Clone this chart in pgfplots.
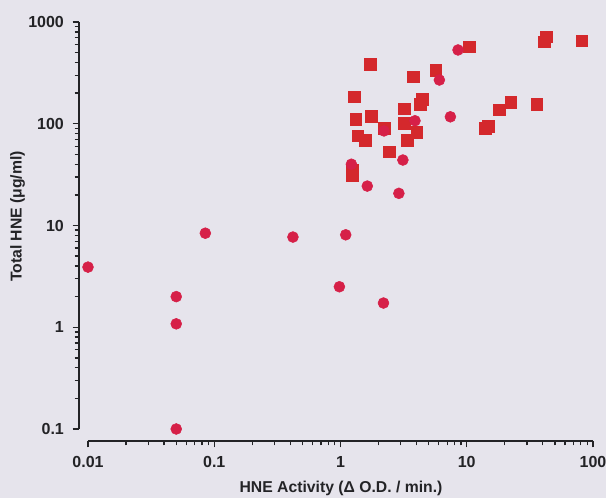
\documentclass[border=0pt]{standalone}
\usepackage{pgfplots}
\pgfplotsset{compat=1.18}
\usepackage{fontspec}
\setmainfont{Liberation Sans}
\definecolor{bg}{RGB}{230,228,236}
\definecolor{txt}{RGB}{35,35,38}
\definecolor{sqcol}{RGB}{212,40,44}
\definecolor{cicol}{RGB}{214,32,72}
\begin{document}
\begin{tikzpicture}
\useasboundingbox (0pt,0pt) rectangle (454.5pt,373.5pt);
\fill[bg] (0pt,0pt) rectangle (454.5pt,373.5pt);
\begin{axis}[
  at={(66pt,51.75pt)}, anchor=south west,
  scale only axis, width=378.75pt, height=305.25pt,
  xmode=log, ymode=log,
  xmin=0.01, xmax=100, ymin=0.1, ymax=1000,
  axis lines=left,
  axis x line shift=9pt,
  axis y line shift=6.75pt,
  axis line style={-, line width=1.3pt, color=txt},
  tick align=outside,
  major tick length=4.8pt, minor tick length=3.2pt,
  every tick/.style={line width=1pt, txt},
  xtick={0.01,0.1,1,10,100}, xticklabels={0.01,0.1,1,10,100},
  ytick={0.1,1,10,100,1000}, yticklabels={0.1,1,10,100,1000},
  /pgf/number format/assume math mode=true,
  tick label style={font=\bfseries\fontsize{12}{14}\selectfont, text=txt},
  xticklabel style={yshift=-3.5pt},
  yticklabel style={xshift=-3pt},
  clip=false,
  xlabel={HNE Activity (Δ O.D. / min.)},
  ylabel={Total HNE (μg/ml)},
  label style={font=\bfseries\fontsize{11.8}{14}\selectfont, text=txt},
  xlabel style={at={(rel axis cs:0.501,-0.147)}, anchor=center},
  ylabel style={at={(rel axis cs:-0.1396,0.522)}, anchor=center},
]
\addplot[only marks, mark=square*, mark size=4.4pt, color=sqcol] coordinates {
(1.73,387) (1.28,184) (3.75,290) (5.67,338) (10.4,572) (42.9,717) (41.1,641)
(81.3,655) (3.22,140) (4.45,174) (4.26,156) (22.3,163) (18.1,137) (35.9,155)
(14.8,95) (14.0,90) (1.32,111) (1.76,119) (2.21,90) (3.22,101) (4.01,82)
(3.38,69) (1.37,76) (1.58,69) (2.42,53) (1.24,35) (1.24,31)
};
\addplot[only marks, mark=*, mark size=4.1pt, color=cicol] coordinates {
(0.01,3.9) (0.05,2.0) (0.05,1.08) (0.05,0.1) (0.085,8.4) (0.42,7.7)
(0.98,2.5) (2.19,1.73) (1.10,8.1) (1.22,40) (1.63,24.4) (2.90,20.7)
(3.12,44) (2.21,85) (3.89,107) (7.42,117) (6.07,269) (8.53,531)
};
\end{axis}
\end{tikzpicture}
\end{document}
